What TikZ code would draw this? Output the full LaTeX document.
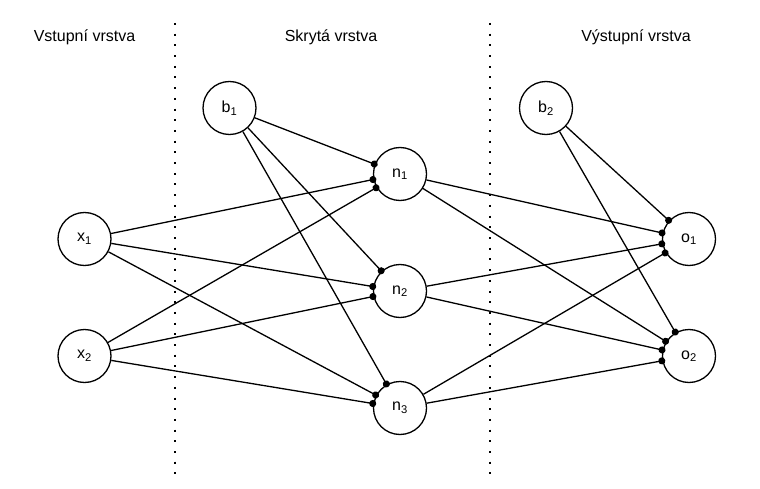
\documentclass[tikz,border=0pt]{standalone}
\usepackage{fontspec}
\setmainfont{Liberation Sans}
\usetikzlibrary{arrows.meta}
\begin{document}
\begin{tikzpicture}[x=1pt,y=-1pt,
  neuron/.style={draw=black,line width=1.3pt,circle,minimum size=53pt,inner sep=0pt,font=\fontsize{16}{19}\selectfont},
  title/.style={font=\fontsize{16}{19}\selectfont,inner sep=0pt},
  conn/.style={draw=black,line width=1.3pt,-{Circle[length=7pt,width=7pt]},shorten >=-3pt},
  sep/.style={line width=2pt,dash pattern=on 2pt off 8.7pt}]
\useasboundingbox (0,0) rectangle (760,489);
\node[title] (t1) at (84.5,37) {Vstupní vrstva};
\node[title] (t2) at (331,37) {Skrytá vrstva};
\node[title] (t3) at (636,37) {Výstupní vrstva};
\coordinate (s1a) at (175,23);
\coordinate (s1b) at (175,476);
\coordinate (s2a) at (490,23);
\coordinate (s2b) at (490,476);
\draw[sep] (s1a) -- (s1b);
\draw[sep] (s2a) -- (s2b);
\node[neuron] (x1) at (84.5,239) {x\textsubscript{1}};
\node[neuron] (x2) at (84.5,356) {x\textsubscript{2}};
\node[neuron] (b1) at (229.5,108) {b\textsubscript{1}};
\node[neuron] (n1) at (400,174) {n\textsubscript{1}};
\node[neuron] (n2) at (400,291) {n\textsubscript{2}};
\node[neuron] (n3) at (400,408) {n\textsubscript{3}};
\node[neuron] (b2) at (546,108) {b\textsubscript{2}};
\node[neuron] (o1) at (689,239) {o\textsubscript{1}};
\node[neuron] (o2) at (689,356) {o\textsubscript{2}};
\foreach \s in {x1,x2,b1}{
  \foreach \t in {n1,n2,n3}{
    \draw[conn] (\s) -- (\t);
  }
}
\foreach \s in {n1,n2,n3,b2}{
  \foreach \t in {o1,o2}{
    \draw[conn] (\s) -- (\t);
  }
}
\end{tikzpicture}
\end{document}
